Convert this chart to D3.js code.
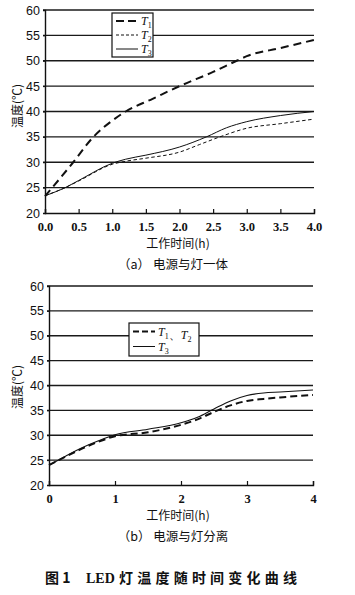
<!DOCTYPE html>
<html>
<head>
<meta charset="utf-8">
<title>LED 灯温度随时间变化曲线</title>
<script src="https://d3js.org/d3.v7.min.js"></script>
<style>
  body { margin: 0; padding: 0; background: #fff; overflow: hidden; }
  text { fill: #111; }
  .ylab { font-family: "Liberation Sans", Arial, sans-serif; font-size: 12.5px; }
  .xlab { font-family: "Liberation Serif", "DejaVu Serif", serif; font-size: 12.5px; font-weight: bold; }
  .cjk { font-family: "Noto Sans CJK SC", sans-serif; font-size: 12px; }
  .leg { font-family: "Liberation Serif", serif; font-style: italic; font-size: 12px; }
  .cap { font-family: "Noto Sans CJK SC", serif; font-size: 14px; font-weight: bold; }
</style>
</head>
<body>
<script>
// ---- data (a): power supply integrated with lamp ----
var timeA = [0, 0.42, 0.72, 1.0, 1.2, 1.6, 2.0, 2.5, 2.85, 3.0, 3.5, 4.0];
var t1A   = [23.3, 30, 35, 38.2, 40, 42.5, 45, 47.8, 50, 50.9, 52.5, 54.1];
var timeA2 = [0, 0.3, 0.5, 1.0, 1.2, 1.5, 2.0, 2.3, 2.6, 3.0, 3.5, 4.0];
var t2A    = [23.4, 25, 26.3, 29.6, 30.2, 30.8, 32.0, 33.5, 35.0, 36.7, 37.6, 38.5];
var timeA3 = [0, 0.3, 0.5, 1.0, 1.2, 1.5, 2.0, 2.4, 2.7, 3.0, 3.5, 4.0];
var t3A    = [23.4, 25, 26.4, 29.8, 30.6, 31.4, 33.0, 35.0, 36.8, 38.0, 39.2, 40.0];
var xTicksA = [0, 0.5, 1.0, 1.5, 2.0, 2.5, 3.0, 3.5, 4.0];

// ---- data (b): power supply separated from lamp ----
var timeB = [0, 0.25, 0.5, 0.75, 1.0, 1.5, 2.0, 2.25, 2.5, 2.75, 3.0, 3.25, 3.5, 4.0];
var t12B  = [24, 25.7, 27.3, 28.7, 29.8, 30.6, 32.1, 33.2, 34.7, 36.0, 36.9, 37.3, 37.6, 38.1];
var t3B   = [24, 25.8, 27.5, 28.9, 30.1, 31.2, 32.5, 33.6, 35.3, 36.9, 38.0, 38.5, 38.7, 39.1];
var xTicksB = [0, 1, 2, 3, 4];

var yTicks = [20, 25, 30, 35, 40, 45, 50, 55, 60];

var svg = d3.select("body").append("svg")
  .attr("width", 355).attr("height", 595);

function zip(xs, ys) { return xs.map(function (x, i) { return [x, ys[i]]; }); }

function panel(o) {
  var x = d3.scaleLinear().domain([0, 4]).range([o.x0, o.x1]);
  var y = d3.scaleLinear().domain([20, 60]).range([o.y0, o.y1]);
  var g = svg.append("g");

  // horizontal grid
  g.selectAll("line.grid").data(yTicks.slice(1)).enter().append("line")
    .attr("x1", o.x0 - 2).attr("x2", o.x1)
    .attr("y1", function (d) { return y(d); }).attr("y2", function (d) { return y(d); })
    .style("stroke", "#1a1a1a").style("stroke-width", 1.4);

  // y axis
  g.append("g").attr("transform", "translate(" + o.x0 + ",0)")
    .call(d3.axisLeft(y).tickValues(yTicks).tickSize(2).tickPadding(3))
    .call(function (a) {
      a.select(".domain").style("stroke", "#111").style("stroke-width", 1.4);
      a.selectAll("line").style("stroke", "#111");
      a.selectAll("text").attr("class", "ylab").style("font-family", null).style("font-size", null);
    });

  // x axis (ticks point inward)
  g.append("g").attr("transform", "translate(0," + o.y0 + ")")
    .call(d3.axisBottom(x).tickValues(o.xt).tickSize(-4).tickPadding(9)
      .tickFormat(o.fmt))
    .call(function (a) {
      a.select(".domain").style("stroke", "#111").style("stroke-width", 1.4);
      a.selectAll("line").style("stroke", "#111").style("stroke-width", 1.2);
      a.selectAll("text").attr("class", "xlab").style("font-family", null).style("font-size", null);
    });

  var line = d3.line().curve(d3.curveMonotoneX)
    .x(function (d) { return x(d[0]); }).y(function (d) { return y(d[1]); });

  o.series.forEach(function (s) {
    g.append("path").datum(s.pts).attr("d", line)
      .style("fill", "none").style("stroke", "#111")
      .style("stroke-width", s.w).style("stroke-dasharray", s.dash || null);
  });

  // y title
  g.append("text").attr("class", "cjk")
    .attr("transform", "translate(" + 22 + "," + o.ytitle + ") rotate(-90)")
    .attr("text-anchor", "middle").text("温度(℃)");

  // x title and sub caption
  g.append("text").attr("class", "cjk").attr("x", 178).attr("y", o.y0 + 35)
    .attr("text-anchor", "middle").text("工作时间(h)");
  g.append("text").attr("class", "cjk").style("font-size", "12.5px")
    .attr("x", 173).attr("y", o.y0 + 56)
    .attr("text-anchor", "middle").text(o.sub);

  // legend
  var L = o.leg;
  var lg = g.append("g");
  lg.append("rect").attr("x", L.x).attr("y", L.y).attr("width", L.w).attr("height", L.h)
    .style("fill", "#fff").style("stroke", "#111").style("stroke-width", 1.2);
  L.items.forEach(function (it, i) {
    var yy = L.y + L.first + i * L.step;
    lg.append("line").attr("x1", L.x + 4).attr("x2", L.x + 26).attr("y1", yy).attr("y2", yy)
      .style("stroke", "#111").style("stroke-width", it.w).style("stroke-dasharray", it.dash || null);
    var t = lg.append("text").attr("class", "leg").attr("x", L.x + 29).attr("y", yy + 4);
    it.label.forEach(function (p, k) {
      if (k > 0) t.append("tspan").style("font-style", "normal").text("、");
      t.append("tspan").text("T");
      t.append("tspan").attr("dy", 3).style("font-size", "8px").style("font-style", "normal").text(p);
      t.append("tspan").attr("dy", -3).text("");
    });
  });
}

panel({
  x0: 45, x1: 314, y0: 213, y1: 10,
  xt: xTicksA, fmt: d3.format(".1f"),
  ytitle: 106, sub: "（a） 电源与灯一体",
  series: [
    { pts: zip(timeA, t1A), w: 2, dash: "8,5" },
    { pts: zip(timeA2, t2A), w: 1, dash: "3.5,2.5" },
    { pts: zip(timeA3, t3A), w: 1 }
  ],
  leg: { x: 112, y: 13, w: 41, h: 44, first: 8, step: 14,
    items: [
      { label: ["1"], w: 2, dash: "8,4" },
      { label: ["2"], w: 1, dash: "3,2" },
      { label: ["3"], w: 1 }
    ] }
});

panel({
  x0: 49, x1: 313, y0: 485, y1: 286,
  xt: xTicksB, fmt: d3.format("d"),
  ytitle: 387, sub: "（b） 电源与灯分离",
  series: [
    { pts: zip(timeB, t12B), w: 2, dash: "7,4" },
    { pts: zip(timeB, t3B), w: 1.1 }
  ],
  leg: { x: 129, y: 323, w: 70, h: 33, first: 8.5, step: 15,
    items: [
      { label: ["1", "2"], w: 2, dash: "6,3" },
      { label: ["3"], w: 1 }
    ] }
});

// figure caption
var cap = svg.append("text").attr("class", "cap").attr("y", 583);
cap.append("tspan").attr("x", 45).text("图 1");
cap.append("tspan").attr("x", 86).style("font-family", "Liberation Serif").text("LED");
cap.append("tspan").attr("x", 119).attr("textLength", 178).attr("lengthAdjust", "spacing")
  .text("灯温度随时间变化曲线");
</script>
</body>
</html>
